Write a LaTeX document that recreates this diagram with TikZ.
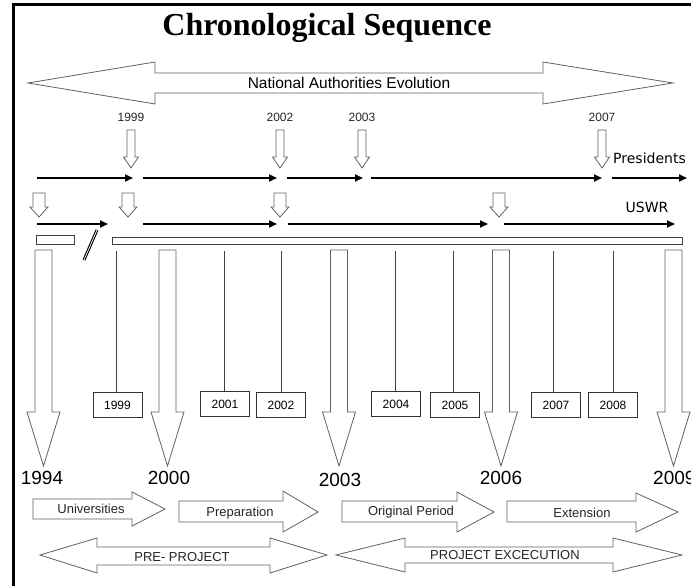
\documentclass[tikz,border=0pt]{standalone}
\usepackage{fontspec}
\setmainfont{Liberation Sans}
\newfontfamily\titlefont{Liberation Serif}
\newfontfamily\handfont{DejaVu Sans}
\usetikzlibrary{arrows.meta}
\begin{document}
\begin{tikzpicture}[x=1pt,y=-1pt,
  hollow/.style={draw=black!62, fill=white, line width=0.8pt, line join=miter},
  blk/.style={line width=1.7pt, -{Triangle[length=8pt,width=7pt]}},
  yearbox/.style={draw=black!80, line width=0.7pt, minimum width=49pt, minimum height=25pt, inner sep=0pt, font=\fontsize{12}{12}\selectfont},
  smalllab/.style={inner sep=0pt, font=\fontsize{12}{12}\selectfont, text=black!85},
  biglab/.style={inner sep=0pt, font=\fontsize{19}{19}\selectfont},
  phaselab/.style={inner sep=0pt, font=\fontsize{13}{13}\selectfont, text=black!85},
  handlab/.style={inner sep=0pt, font=\handfont\fontsize{14}{14}\selectfont},
  tick/.style={draw=black!75, line width=0.7pt}
]
\useasboundingbox (0,0) rectangle (691,586);
% frame
\draw[line width=3pt] (13,586) -- (13,5) -- (691,5);

% title
\node[inner sep=0pt] (title) at (327,28) {\titlefont\bfseries\fontsize{32}{32}\selectfont Chronological Sequence};

% National Authorities Evolution
\draw[hollow] (28,83) -- (155,62) -- (155,73) -- (543,73) -- (543,62) -- (673,83)
  -- (543,104) -- (543,93) -- (155,93) -- (155,104) -- cycle;
\node[inner sep=0pt, font=\fontsize{15.5}{15.5}\selectfont] (nae) at (349,83) {National Authorities Evolution};

% small year labels
\node[smalllab] (y1999) at (131,117) {1999};
\node[smalllab] (y2002) at (280,117) {2002};
\node[smalllab] (y2003) at (362,117) {2003};
\node[smalllab] (y2007) at (602,117) {2007};

% small down arrows (upper row)
\foreach \cx in {131,280,362,602}{
  \draw[hollow] (\cx-4,130) -- (\cx+4,130) -- (\cx+4,157) -- (\cx+7.5,157) -- (\cx,168)
    -- (\cx-7.5,157) -- (\cx-4,157) -- cycle;
}
\node[handlab, anchor=west] (pres) at (613,158) {Presidents};

% row 1 black arrows
\coordinate (a1s) at (37,178);  \coordinate (a1e) at (133,178);
\coordinate (a2s) at (143,178); \coordinate (a2e) at (277,178);
\coordinate (a3s) at (287,178); \coordinate (a3e) at (363,178);
\coordinate (a4s) at (371,178); \coordinate (a4e) at (602,178);
\coordinate (a5s) at (612,178); \coordinate (a5e) at (687,178);
\draw[blk] (a1s) -- (a1e);
\draw[blk] (a2s) -- (a2e);
\draw[blk] (a3s) -- (a3e);
\draw[blk] (a4s) -- (a4e);
\draw[blk] (a5s) -- (a5e);

% row 2 small down arrows
\foreach \cx in {39,128,280,499}{
  \draw[hollow] (\cx-6,193) -- (\cx+6,193) -- (\cx+6,207) -- (\cx+9,207) -- (\cx,217)
    -- (\cx-9,207) -- (\cx-6,207) -- cycle;
}
\node[handlab] (uswr) at (647,207) {USWR};

% row 2 black arrows
\coordinate (b1s) at (37,224);  \coordinate (b1e) at (108,224);
\coordinate (b2s) at (143,224); \coordinate (b2e) at (277,224);
\coordinate (b3s) at (288,224); \coordinate (b3e) at (488,224);
\coordinate (b4s) at (504,224); \coordinate (b4e) at (675,224);
\draw[blk] (b1s) -- (b1e);
\draw[blk] (b2s) -- (b2e);
\draw[blk] (b3s) -- (b3e);
\draw[blk] (b4s) -- (b4e);

% small rectangle, break mark, long bar
\draw[draw=black!75, line width=0.8pt, fill=white] (36,235) rectangle (74,244);
\coordinate (sl1) at (97,230); \coordinate (sl2) at (84,260);
\draw[line width=1.1pt, double=white, double distance=0.7pt] (sl1) -- (sl2);
\draw[draw=black!75, line width=0.8pt, fill=white] (112,237) rectangle (682,244);

% year boxes and ticks
\foreach \nm/\cx/\cy/\lx in {1999/117.5/405/116, 2001/225/404/224, 2002/281/405/281,
  2004/396/404/395, 2005/455/405/453, 2007/556/405/553, 2008/613/405/613}{
  \node[yearbox] (b\nm) at (\cx,\cy) {\nm};
  \coordinate (t\nm) at (\lx,251);
  \draw[tick] (t\nm) -- (t\nm |- b\nm.north);
}

% big down arrows
\foreach \cx in {43.5,167.5,339,501,673.5}{
  \draw[hollow] (\cx-8.5,250) -- (\cx+8.5,250) -- (\cx+8.5,412) -- (\cx+16.5,412) -- (\cx,466)
    -- (\cx-16.5,412) -- (\cx-8.5,412) -- cycle;
}
\node[biglab] (l1994) at (42,478) {1994};
\node[biglab] (l2000) at (169,478) {2000};
\node[biglab] (l2003) at (340,480) {2003};
\node[biglab] (l2006) at (501,478) {2006};
\node[biglab, anchor=west] (l2009) at (653,478) {2009};

% phase arrows
\draw[hollow] (33,499) -- (132,499) -- (132,492) -- (165,509) -- (132,526) -- (132,519) -- (33,519) -- cycle;
\node[phaselab] (univ) at (91,509) {Universities};
\draw[hollow] (179,501) -- (283,501) -- (283,491) -- (318,512) -- (283,532) -- (283,522) -- (179,522) -- cycle;
\node[phaselab] (prep) at (240,513) {Preparation};
\draw[hollow] (342,501) -- (457,501) -- (457,492) -- (494,512) -- (457,532) -- (457,522) -- (342,522) -- cycle;
\node[phaselab] (orig) at (411,512) {Original Period};
\draw[hollow] (507,501) -- (636,501) -- (636,493) -- (678,512) -- (636,532) -- (636,522) -- (507,522) -- cycle;
\node[phaselab] (ext) at (582,513) {Extension};

% bottom double arrows
\draw[hollow] (40,555) -- (97,538) -- (97,547) -- (270,547) -- (270,538) -- (327,555)
  -- (270,573) -- (270,565) -- (97,565) -- (97,573) -- cycle;
\node[phaselab] (pre) at (182,557) {PRE- PROJECT};
\draw[hollow] (336,555) -- (405,538) -- (405,547) -- (613,547) -- (613,538) -- (682,555)
  -- (613,572) -- (613,563) -- (405,563) -- (405,572) -- cycle;
\node[phaselab] (exe) at (505,555) {PROJECT EXCECUTION};
\end{tikzpicture}
\end{document}
